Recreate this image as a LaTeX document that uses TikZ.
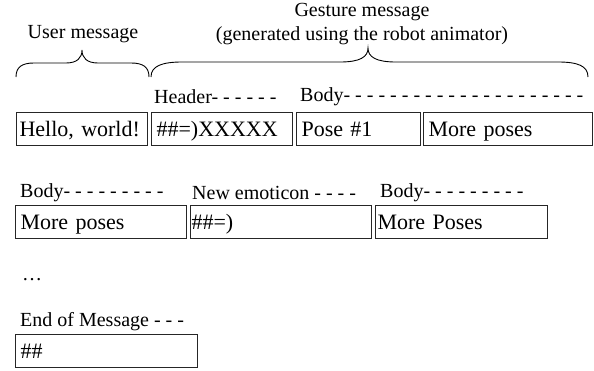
\documentclass[tikz,border=0pt]{standalone}
\usepackage{fontspec}
\setmainfont{Liberation Serif}
\usetikzlibrary{positioning}

\begin{document}
\begin{tikzpicture}[
    x=1pt, y=-1pt,
    % ====================
    % NODE STYLES
    % ====================
    msgbox/.style={
        rectangle, draw=black!85, line width=1.1pt,
        anchor=north west, align=left,
        minimum height=33pt, inner xsep=5pt, inner ysep=0pt,
        font=\fontsize{22}{24}\selectfont,
        execute at begin node={\rule[-6pt]{0pt}{26pt}}
    },
    fieldlabel/.style={
        anchor=west, inner sep=0pt,
        font=\fontsize{20}{24}\selectfont
    },
    headtext/.style={
        align=center, inner sep=0pt,
        font=\fontsize{20}{24}\selectfont
    },
    bracket/.style={
        draw=black, line width=0.9pt
    }
]

% ====================
% PAGE SIZE
% ====================
\useasboundingbox (0,0) rectangle (594,370);

% ====================
% HEADINGS AND BRACES
% ====================
\node[headtext] (usertitle) at (83,34) {User message};
\node[headtext] (gesturetitle) at (362,24) {Gesture message\\(generated using the robot animator)};

\draw[bracket] (16,77) .. controls (16,67) and (22,63) .. (34,63) -- (66,63)
    .. controls (77,63) and (82,58) .. (82,50)
    .. controls (82,58) and (87,63) .. (98,63) -- (131,63)
    .. controls (143,63) and (149,67) .. (149,77);

\draw[bracket] (151,77) .. controls (151,66) and (162,62) .. (182,62) -- (340,62)
    .. controls (360,62) and (368,57) .. (368,48)
    .. controls (368,57) and (376,62) .. (396,62) -- (558,62)
    .. controls (578,62) and (588,66) .. (588,77);

% ====================
% ROW 1: USER TEXT + HEADER + FIRST POSE
% ====================
\node[fieldlabel] (lblheader) at (154,97) {Header- - - - - -};
\node[fieldlabel] (lblbody1) at (300,97) {Body- - - - - - - - - - - - - - - - - - - - -};

\node[msgbox, text width=125pt, inner xsep=3pt] (hello) at (16,112) {Hello, world!};
\node[msgbox, text width=131pt] (header) at (151,112) {\#\#=)XXXXX};
\node[msgbox, text width=114pt] (pose1) at (296,112) {Pose \#1};
\node[msgbox, text width=159pt] (more1) at (423,112) {More poses};

% ====================
% ROW 2: BODY + NEW EMOTICON + BODY
% ====================
\node[fieldlabel] (lblbody2) at (20,193) {Body- - - - - - - - -};
\node[fieldlabel] (lblemo) at (192,193) {New emoticon - - - -};
\node[fieldlabel] (lblbody3) at (380,193) {Body- - - - - - - - -};

\node[msgbox, text width=161pt] (more2) at (15,205) {More poses};
\node[msgbox, text width=179pt, inner xsep=1pt] (emo) at (190,205) {\#\#=)};
\node[msgbox, text width=168pt, inner xsep=2pt] (more3) at (375,205) {More Poses};

% ====================
% END OF MESSAGE
% ====================
\node[fieldlabel] (dots) at (22,280) {\ldots};
\node[fieldlabel] (lblend) at (20,322) {End of Message - - -};
\node[msgbox, text width=172pt] (endmsg) at (15,334) {\#\#};

\end{tikzpicture}
\end{document}
